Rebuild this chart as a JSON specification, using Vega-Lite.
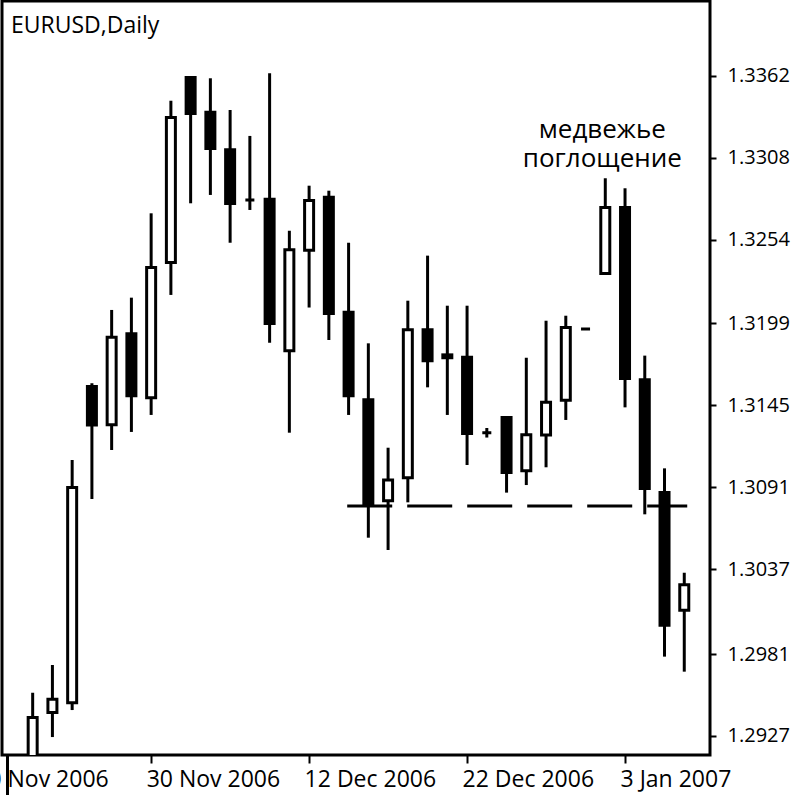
{
  "$schema": "https://vega.github.io/schema/vega-lite/v6.json",
  "width": 708,
  "height": 754,
  "autosize": {"type": "none"},
  "padding": {"left": 2, "top": 1, "right": 90, "bottom": 40},
  "background": "white",
  "config": {
    "view": {"stroke": "black", "strokeWidth": 3},
    "font": "Open Sans"
  },
  "title": {
    "text": "EURUSD,Daily",
    "anchor": "start",
    "frame": "group",
    "font": "Open Sans",
    "fontSize": 23,
    "fontWeight": "normal",
    "color": "black",
    "baseline": "alphabetic",
    "offset": 0,
    "dx": 9,
    "dy": 55
  },
  "datasets": {
    "candles": [
      {"i": 1, "date": "2006-11-22", "open": 1.29013, "high": 1.29555, "low": 1.28914, "close": 1.29392},
      {"i": 2, "date": "2006-11-23", "open": 1.29425, "high": 1.29738, "low": 1.29263, "close": 1.29512},
      {"i": 3, "date": "2006-11-24", "open": 1.29489, "high": 1.31089, "low": 1.29441, "close": 1.30908},
      {"i": 4, "date": "2006-11-27", "open": 1.31573, "high": 1.31595, "low": 1.30832, "close": 1.31319},
      {"i": 5, "date": "2006-11-28", "open": 1.31321, "high": 1.32078, "low": 1.31155, "close": 1.31898},
      {"i": 6, "date": "2006-11-29", "open": 1.31921, "high": 1.32159, "low": 1.31274, "close": 1.31512},
      {"i": 7, "date": "2006-11-30", "open": 1.31499, "high": 1.32715, "low": 1.31386, "close": 1.32358},
      {"i": 8, "date": "2006-12-01", "open": 1.32391, "high": 1.33457, "low": 1.32177, "close": 1.33346},
      {"i": 9, "date": "2006-12-04", "open": 1.3361, "high": 1.3362, "low": 1.32781, "close": 1.33373},
      {"i": 10, "date": "2006-12-05", "open": 1.33381, "high": 1.33605, "low": 1.32836, "close": 1.33142},
      {"i": 11, "date": "2006-12-06", "open": 1.33134, "high": 1.33396, "low": 1.32521, "close": 1.3278},
      {"i": 12, "date": "2006-12-07", "open": 1.32803, "high": 1.33225, "low": 1.32737, "close": 1.32803},
      {"i": 13, "date": "2006-12-08", "open": 1.32808, "high": 1.33638, "low": 1.31862, "close": 1.31989},
      {"i": 14, "date": "2006-12-11", "open": 1.31809, "high": 1.326, "low": 1.31269, "close": 1.32474},
      {"i": 15, "date": "2006-12-12", "open": 1.32472, "high": 1.32897, "low": 1.32094, "close": 1.32799},
      {"i": 16, "date": "2006-12-13", "open": 1.32821, "high": 1.32864, "low": 1.3188, "close": 1.32055},
      {"i": 17, "date": "2006-12-14", "open": 1.32063, "high": 1.32521, "low": 1.31386, "close": 1.31512},
      {"i": 18, "date": "2006-12-15", "open": 1.31486, "high": 1.31858, "low": 1.30577, "close": 1.30802},
      {"i": 19, "date": "2006-12-18", "open": 1.3082, "high": 1.3117, "low": 1.30496, "close": 1.30958},
      {"i": 20, "date": "2006-12-19", "open": 1.30972, "high": 1.32139, "low": 1.3081, "close": 1.31947},
      {"i": 21, "date": "2006-12-20", "open": 1.31947, "high": 1.32436, "low": 1.31568, "close": 1.31743},
      {"i": 22, "date": "2006-12-21", "open": 1.31763, "high": 1.32106, "low": 1.31386, "close": 1.31782},
      {"i": 23, "date": "2006-12-22", "open": 1.31767, "high": 1.32106, "low": 1.31056, "close": 1.31264},
      {"i": 24, "date": "2006-12-25", "open": 1.31269, "high": 1.313, "low": 1.31237, "close": 1.31269},
      {"i": 25, "date": "2006-12-26", "open": 1.31369, "high": 1.31369, "low": 1.30874, "close": 1.31007},
      {"i": 26, "date": "2006-12-27", "open": 1.31018, "high": 1.31763, "low": 1.30924, "close": 1.31255},
      {"i": 27, "date": "2006-12-28", "open": 1.31253, "high": 1.32007, "low": 1.31041, "close": 1.3147},
      {"i": 28, "date": "2006-12-29", "open": 1.31483, "high": 1.3204, "low": 1.31353, "close": 1.31962},
      {"i": 29, "date": "2007-01-01", "open": 1.31953, "high": 1.31953, "low": 1.31953, "close": 1.31953},
      {"i": 30, "date": "2007-01-02", "open": 1.32318, "high": 1.32946, "low": 1.32318, "close": 1.32753},
      {"i": 31, "date": "2007-01-03", "open": 1.32753, "high": 1.3288, "low": 1.31436, "close": 1.31626},
      {"i": 32, "date": "2007-01-04", "open": 1.31618, "high": 1.31777, "low": 1.30731, "close": 1.30901},
      {"i": 33, "date": "2007-01-05", "open": 1.30875, "high": 1.31034, "low": 1.29793, "close": 1.3},
      {"i": 34, "date": "2007-01-08", "open": 1.30099, "high": 1.30346, "low": 1.29694, "close": 1.30266}
    ],
    "support": [
      {"i": 16.93, "i2": 34.15, "level": 1.30786}
    ],
    "note": [
      {"i": 29.85, "price": 1.3321, "label": ["медвежье", "поглощение"]}
    ]
  },
  "layer": [
    {
      "data": {"name": "support"},
      "mark": {"type": "rule", "color": "black", "strokeWidth": 3, "strokeDash": [45, 15], "clip": true},
      "encoding": {
        "x": {"field": "i", "type": "quantitative", "scale": {"domain": [-0.3, 35.05], "nice": false, "zero": false}},
        "x2": {"field": "i2"},
        "y": {"field": "level", "type": "quantitative", "scale": {"domain": [1.291447, 1.341143], "nice": false, "zero": false}}
      }
    },
    {
      "data": {"name": "candles"},
      "mark": {"type": "rule", "color": "black", "strokeWidth": 3, "clip": true},
      "encoding": {
        "x": {
          "field": "i", "type": "quantitative",
          "scale": {"domain": [-0.3, 35.05], "nice": false, "zero": false},
          "axis": {
            "orient": "bottom",
            "title": null,
            "values": [-0.3, 5.08, 7, 15, 23, 31],
            "labelExpr": "datum.value < 0 ? '' : datum.value < 6 ? '20 Nov 2006' : datum.value == 7 ? '30 Nov 2006' : datum.value == 15 ? '12 Dec 2006' : datum.value == 23 ? '22 Dec 2006' : '3 Jan 2007'",
            "grid": false,
            "domain": false,
            "ticks": true,
            "tickSize": {"condition": {"test": "datum.value < 0", "value": 40}, "value": 8},
            "tickWidth": {"condition": {"test": "datum.value < 0", "value": 3}, "value": 2},
            "tickOpacity": {"condition": {"test": "datum.value > 5 && datum.value < 6", "value": 0}, "value": 1},
            "tickColor": "black",
            "labelAlign": {"condition": {"test": "datum.value > 5 && datum.value < 6", "value": "right"}, "value": "left"},
            "labelOffset": -5,
            "labelPadding": 5,
            "labelFlush": false,
            "labelOverlap": false,
            "labelBound": false,
            "labelFont": "Open Sans",
            "labelFontSize": 23,
            "labelColor": "black"
          }
        },
        "y": {
          "field": "low", "type": "quantitative",
          "scale": {"domain": [1.291447, 1.341143], "nice": false, "zero": false},
          "axis": {
            "orient": "right",
            "title": null,
            "values": [1.2927, 1.2981, 1.3037, 1.3091, 1.3145, 1.3199, 1.3254, 1.3308, 1.3362],
            "format": ".4f",
            "grid": false,
            "domain": false,
            "tickSize": 6,
            "tickWidth": 2,
            "tickColor": "black",
            "labelFont": "Open Sans",
            "labelFontSize": 20,
            "labelColor": "black",
            "labelPadding": 11,
            "labelOverlap": false,
            "labelBound": false,
            "labelFlush": false
          }
        },
        "y2": {"field": "high"}
      }
    },
    {
      "data": {"name": "candles"},
      "mark": {"type": "bar", "size": 9, "stroke": "black", "strokeWidth": 3, "clip": true},
      "encoding": {
        "x": {"field": "i", "type": "quantitative", "scale": {"domain": [-0.3, 35.05], "nice": false, "zero": false}},
        "y": {"field": "open", "type": "quantitative", "scale": {"domain": [1.291447, 1.341143], "nice": false, "zero": false}},
        "y2": {"field": "close"},
        "fill": {"condition": {"test": "datum.close > datum.open", "value": "white"}, "value": "black"}
      }
    },
    {
      "data": {"name": "note"},
      "mark": {"type": "text", "font": "Open Sans", "fontSize": 26, "color": "black", "align": "center", "baseline": "alphabetic", "lineHeight": 28.5},
      "encoding": {
        "x": {"field": "i", "type": "quantitative", "scale": {"domain": [-0.3, 35.05], "nice": false, "zero": false}},
        "y": {"field": "price", "type": "quantitative", "scale": {"domain": [1.291447, 1.341143], "nice": false, "zero": false}},
        "text": {"field": "label"}
      }
    }
  ]
}
